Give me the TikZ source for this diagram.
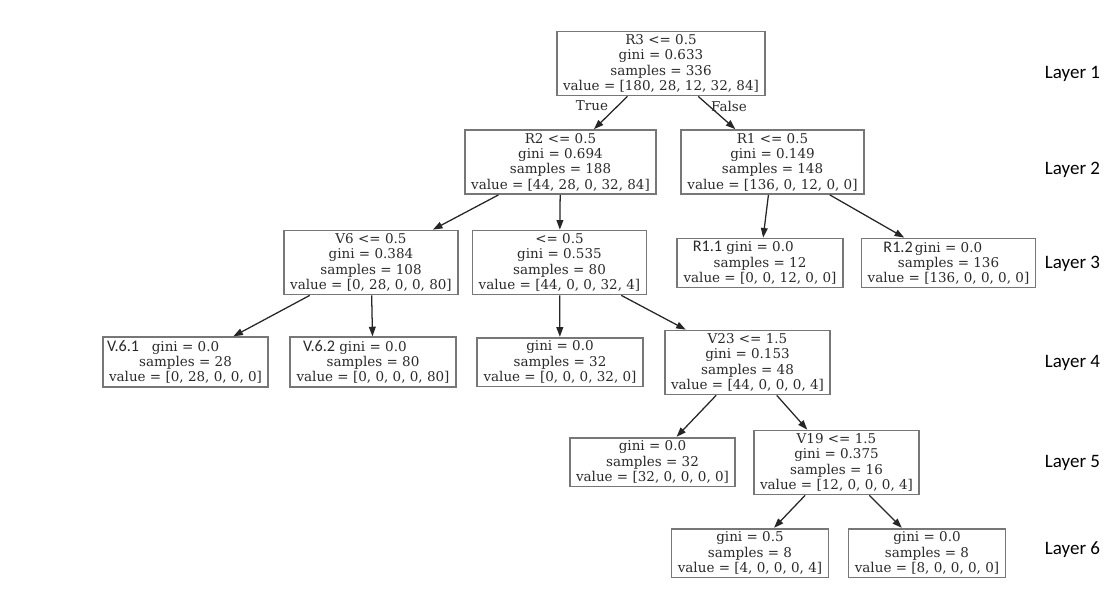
\documentclass[tikz,border=0pt]{standalone}
\usepackage{fontspec}
\setmainfont{DejaVu Serif}
\newfontfamily\labfont{Carlito}
\usetikzlibrary{arrows.meta}
\definecolor{BoxLine}{HTML}{777777}
\definecolor{TextGray}{HTML}{2A2A2A}
\definecolor{EdgeGray}{HTML}{262626}

\newcommand{\leaftag}[2]{\llap{\labfont\fontsize{11.5}{12}\selectfont #1\hspace*{#2}}}

\begin{document}
\begin{tikzpicture}[
    x=0.025cm, y=-0.025cm,
    split/.style={
      draw=BoxLine,
      line width=1.2pt,
      fill=white,
      align=center,
      inner xsep=4.5pt,
      inner ysep=2.2pt,
      text=TextGray,
      font=\fontsize{9.6}{10.9}\selectfont
    },
    layerlab/.style={
      anchor=west,
      text=black,
      font=\labfont\fontsize{13.5}{14}\selectfont
    },
    branch/.style={
      text=TextGray,
      font=\fontsize{9.6}{10.9}\selectfont
    },
    flow/.style={-{Triangle[length=2.4mm,width=1.7mm]}, draw=EdgeGray, line width=0.9pt}
  ]
    \useasboundingbox (0,0) rectangle (1106,594);

    % layer 1
    \node[split] (root) at (661,63.5) {R3 <= 0.5\\gini = 0.633\\samples = 336\\value = [180, 28, 12, 32, 84]};
    % layer 2
    \node[split] (r2) at (560.5,162) {R2 <= 0.5\\gini = 0.694\\samples = 188\\value = [44, 28, 0, 32, 84]};
    \node[split] (r1) at (772.5,162) {R1 <= 0.5\\gini = 0.149\\samples = 148\\value = [136, 0, 12, 0, 0]};
    % layer 3
    \node[split] (v6) at (371,262.5) {V6 <= 0.5\\gini = 0.384\\samples = 108\\value = [0, 28, 0, 0, 80]};
    \node[split] (mid) at (559.5,262.5) {<= 0.5\\gini = 0.535\\samples = 80\\value = [44, 0, 0, 32, 4]};
    \node[split] (r11) at (760,263) {\leaftag{R1.1}{3pt}gini = 0.0\\samples = 12\\value = [0, 0, 12, 0, 0]};
    \node[split] (r12) at (948.5,263) {\leaftag{R1.2}{1.5pt}gini = 0.0\\samples = 136\\value = [136, 0, 0, 0, 0]};
    % layer 4
    \node[split] (v61) at (185.5,362) {\leaftag{V.6.1}{9pt}gini = 0.0\\samples = 28\\value = [0, 28, 0, 0, 0]};
    \node[split] (v62) at (373,362) {\leaftag{V.6.2}{3pt}gini = 0.0\\samples = 80\\value = [0, 0, 0, 0, 80]};
    \node[split] (leafa) at (560,362) {gini = 0.0\\samples = 32\\value = [0, 0, 0, 32, 0]};
    \node[split] (v23) at (747.5,362.5) {V23 <= 1.5\\gini = 0.153\\samples = 48\\value = [44, 0, 0, 0, 4]};
    % layer 5
    \node[split] (leafb) at (652.5,462) {gini = 0.0\\samples = 32\\value = [32, 0, 0, 0, 0]};
    \node[split] (v19) at (836.5,462.5) {V19 <= 1.5\\gini = 0.375\\samples = 16\\value = [12, 0, 0, 0, 4]};
    % layer 6
    \node[split] (leafc) at (750,553) {gini = 0.5\\samples = 8\\value = [4, 0, 0, 0, 4]};
    \node[split] (leafd) at (927,553) {gini = 0.0\\samples = 8\\value = [8, 0, 0, 0, 0]};

    % layer labels
    \node[layerlab] (lay1) at (1040,74) {Layer 1};
    \node[layerlab] (lay2) at (1040,170) {Layer 2};
    \node[layerlab] (lay3) at (1040,264) {Layer 3};
    \node[layerlab] (lay4) at (1040,363) {Layer 4};
    \node[layerlab] (lay5) at (1040,463) {Layer 5};
    \node[layerlab] (lay6) at (1040,550) {Layer 6};

    \draw[flow] (root) -- (r2);
    \draw[flow] (root) -- (r1);
    \node[branch] (truelab) at (592,106) {True};
    \node[branch] (falselab) at (729,106) {False};
    \draw[flow] (r2) -- (v6);
    \draw[flow] (r2) -- (mid);
    \draw[flow] (r1) -- (r11);
    \draw[flow] (r1) -- (r12);
    \draw[flow] (v6) -- (v61);
    \draw[flow] (v6) -- (v62);
    \draw[flow] (mid) -- (leafa);
    \draw[flow] (mid) -- (v23);
    \draw[flow] (v23) -- (leafb);
    \draw[flow] (v23) -- (v19);
    \draw[flow] (v19) -- (leafc);
    \draw[flow] (v19) -- (leafd);
  \end{tikzpicture}
\end{document}
